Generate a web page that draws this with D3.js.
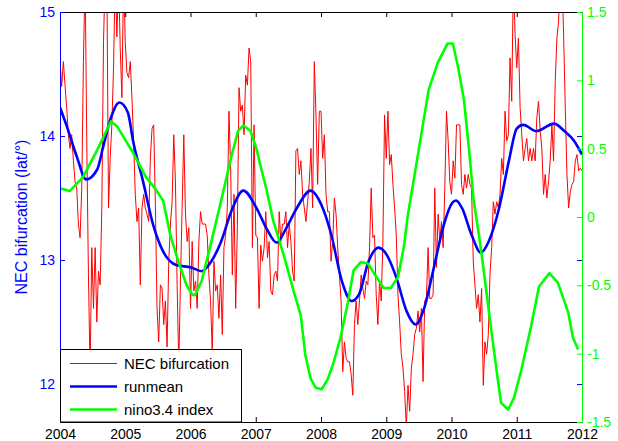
<!DOCTYPE html>
<html>
<head>
<meta charset="utf-8">
<script src="https://d3js.org/d3.v7.min.js"></script>
<style>
body { margin: 0; background: #ffffff; }
text { font-family: "Liberation Sans", Arial, Helvetica, sans-serif; }
</style>
</head>
<body>
<div id="chart"></div>
<script>
// NEC bifurcation latitude, ~39 samples per year
var nec2004 = [14.60,14.40,14.60,14.41,14.23,14.01,13.90,14.01,13.80,13.63,13.58,13.29,13.18,13.58,14.60,15.30,13.96,12.88,12.10,13.10,12.61,13.10,12.50,12.91,12.80,13.42,14.76,15.30,15.30,13.42,13.82,14.09,14.55,15.30,14.80,15.30,14.71,14.31,15.30];
var nec2005 = [14.76,14.51,14.47,14.60,14.31,13.96,13.53,13.31,13.42,12.80,13.42,13.53,13.42,13.37,13.31,13.82,14.06,14.09,13.45,12.61,12.34,12.80,12.77,12.48,12.67,12.30,12.99,13.29,13.47,14.01,13.63,12.80,12.15,12.83,13.42,14.01,13.37,13.15,13.26];
var nec2006 = [12.61,13.15,12.75,12.83,12.61,13.15,13.39,13.29,13.29,13.29,13.20,12.88,12.67,12.25,12.99,12.75,12.80,12.53,12.88,12.40,13.10,13.20,13.42,14.20,13.74,12.88,13.53,12.61,13.26,14.39,14.20,14.25,14.01,14.49,14.41,14.71,14.60,13.10,14.09];
var nec2007 = [13.20,13.18,12.61,13.12,12.99,13.10,13.39,13.02,13.15,12.75,12.72,12.88,12.91,12.83,13.39,13.15,13.29,13.29,13.39,13.10,13.29,13.15,12.91,12.83,13.88,13.90,13.69,13.80,13.53,13.42,13.31,13.47,13.63,13.90,13.42,14.60,14.17,13.61,14.20];
var nec2008 = [14.20,13.82,14.01,13.53,13.39,13.39,12.99,13.15,13.50,13.37,13.10,12.88,12.67,12.10,12.34,12.21,12.18,12.18,12.08,11.91,12.48,12.67,12.48,12.67,12.88,12.77,12.69,12.83,12.80,13.10,13.58,13.18,13.20,12.72,12.48,12.83,12.67,13.15,14.17];
var nec2009 = [13.82,14.20,13.77,13.85,13.61,13.42,13.20,12.72,12.50,12.24,12.13,11.94,11.65,11.99,11.78,12.13,12.24,12.40,12.45,12.59,12.42,12.61,12.02,12.67,12.69,13.10,12.69,12.69,12.72,13.58,12.94,13.37,13.15,13.31,13.10,13.58,14.20,13.96,13.63];
var nec2010 = [13.53,13.80,13.66,14.09,14.09,14.09,13.61,13.53,13.69,13.58,13.69,13.61,13.58,12.99,12.80,12.61,12.72,12.50,12.77,11.99,12.34,12.24,12.40,12.88,13.10,13.47,13.37,13.47,13.42,13.53,13.82,13.69,14.20,13.96,14.01,14.63,14.28,15.30,14.82];
var nec2011 = [14.55,14.79,14.23,14.01,13.80,13.90,13.98,13.80,13.90,13.80,13.90,13.80,14.15,14.28,14.04,13.90,13.53,13.69,13.50,13.63,13.80,14.09,13.80,14.44,14.79,14.92,15.30,15.30,14.82,14.23,13.69,13.42,13.55,13.61,13.63,13.80,13.85,13.72,13.74];
var necEnd = [13.72];

// running mean of the bifurcation latitude
var runmeanYears = [2004.00,2004.11,2004.26,2004.40,2004.57,2004.66,2004.77,2004.91,2005.04,2005.12,2005.27,2005.43,2005.58,2005.78,2006.01,2006.17,2006.32,2006.47,2006.63,2006.81,2007.01,2007.16,2007.32,2007.47,2007.63,2007.84,2008.01,2008.16,2008.32,2008.47,2008.58,2008.73,2008.88,2009.01,2009.16,2009.31,2009.45,2009.58,2009.73,2009.88,2010.01,2010.07,2010.16,2010.31,2010.45,2010.57,2010.73,2010.88,2011.00,2011.10,2011.30,2011.57,2011.73,2011.88,2012.00];
var runmeanLat = [14.23,14.07,13.83,13.65,13.73,13.91,14.13,14.27,14.19,13.96,13.64,13.28,13.07,12.96,12.94,12.91,12.99,13.15,13.40,13.56,13.42,13.26,13.14,13.26,13.42,13.56,13.44,13.20,12.83,12.67,12.72,12.99,13.10,13.04,12.85,12.59,12.48,12.61,12.94,13.28,13.46,13.48,13.42,13.20,13.06,13.15,13.42,13.80,14.06,14.09,14.04,14.10,14.04,13.96,13.85];

// nino3.4 index
var ninoYears = [2004.00,2004.15,2004.35,2004.57,2004.78,2004.88,2005.12,2005.32,2005.47,2005.58,2005.69,2005.81,2005.94,2006.03,2006.07,2006.17,2006.32,2006.47,2006.63,2006.73,2006.81,2006.92,2007.01,2007.07,2007.16,2007.27,2007.43,2007.58,2007.69,2007.76,2007.84,2007.92,2008.01,2008.10,2008.19,2008.30,2008.41,2008.50,2008.61,2008.72,2008.81,2008.96,2009.07,2009.18,2009.27,2009.33,2009.48,2009.65,2009.79,2009.94,2010.02,2010.10,2010.19,2010.27,2010.34,2010.42,2010.48,2010.61,2010.71,2010.76,2010.87,2010.96,2011.07,2011.22,2011.34,2011.50,2011.63,2011.79,2011.86,2011.94];
var ninoIndex = [0.21,0.19,0.29,0.49,0.70,0.66,0.47,0.29,0.20,0.12,-0.13,-0.32,-0.50,-0.57,-0.57,-0.47,-0.18,0.12,0.45,0.63,0.67,0.63,0.50,0.38,0.21,-0.03,-0.28,-0.54,-0.72,-1.01,-1.18,-1.25,-1.26,-1.19,-1.07,-0.88,-0.63,-0.39,-0.33,-0.34,-0.41,-0.52,-0.52,-0.44,-0.22,0.01,0.44,0.93,1.13,1.27,1.27,1.10,0.86,0.49,0.12,-0.13,-0.34,-0.83,-1.19,-1.36,-1.41,-1.32,-1.12,-0.80,-0.51,-0.41,-0.48,-0.70,-0.88,-0.97];

var yearTicks = [2004,2005,2006,2007,2008,2009,2010,2011,2012];
var latTicks = [12,13,14,15];
var ninoTicks = [-1.5,-1,-0.5,0,0.5,1,1.5];

var necYears = [nec2004,nec2005,nec2006,nec2007,nec2008,nec2009,nec2010,nec2011];
var nec = [];
necYears.forEach(function (arr, k) {
  arr.forEach(function (v, i) { nec.push({ t: 2004 + k + i / arr.length, v: v }); });
});
nec.push({ t: 2012, v: necEnd[0] });

var W = 618, H = 441;
var margin = { left: 60, right: 36, top: 12, bottom: 19 };
var width = W - margin.left - margin.right;
var height = H - margin.top - margin.bottom;

var blue = "#0000ff", green = "#00ff00", red = "#ff0000";

var svg = d3.select("#chart").append("svg")
  .attr("width", W).attr("height", H);

var g = svg.append("g")
  .attr("transform", "translate(" + margin.left + "," + margin.top + ")");

var x = d3.scaleLinear().domain([2004, 2012]).range([0, width]);
var yL = d3.scaleLinear().domain([11.694, 15]).range([height, 0]);
var yR = d3.scaleLinear().domain([-1.5, 1.5]).range([height, 0]);

g.append("clipPath").attr("id", "plotclip")
  .append("rect").attr("width", width).attr("height", height);

var plot = g.append("g").attr("clip-path", "url(#plotclip)");

plot.append("path")
  .datum(nec)
  .attr("fill", "none")
  .attr("stroke", red)
  .attr("stroke-width", 1)
  .attr("stroke-linejoin", "round")
  .attr("d", d3.line().x(function (d) { return x(d.t); }).y(function (d) { return yL(d.v); }));

plot.append("path")
  .datum(d3.zip(runmeanYears, runmeanLat))
  .attr("fill", "none")
  .attr("stroke", blue)
  .attr("stroke-width", 2.6)
  .attr("d", d3.line().curve(d3.curveMonotoneX)
    .x(function (d) { return x(d[0]); }).y(function (d) { return yL(d[1]); }));

plot.append("path")
  .datum(d3.zip(ninoYears, ninoIndex))
  .attr("fill", "none")
  .attr("stroke", green)
  .attr("stroke-width", 2.6)
  .attr("stroke-linejoin", "round")
  .attr("d", d3.line().x(function (d) { return x(d[0]); }).y(function (d) { return yR(d[1]); }));

// axes (MATLAB style, ticks pointing inward)
var fmt = function (d) { return String(d); };

g.append("g")
  .attr("transform", "translate(0," + height + ")")
  .style("color", "#000")
  .style("font-size", "14px")
  .call(d3.axisBottom(x).tickValues(yearTicks).tickFormat(fmt).tickSizeInner(-5).tickSizeOuter(0).tickPadding(7))
  .call(function (a) { a.selectAll("text").attr("font-family", null); });

g.append("g")
  .style("color", "#000")
  .call(d3.axisTop(x).tickValues(yearTicks).tickFormat("").tickSizeInner(-5).tickSizeOuter(0));

// mirrored left-axis ticks on the right side
g.append("g")
  .attr("transform", "translate(" + width + ",0)")
  .style("color", blue)
  .call(d3.axisRight(yL).tickValues(latTicks).tickFormat("").tickSizeInner(-5).tickSizeOuter(0))
  .call(function (a) { a.select(".domain").remove(); });

g.append("g")
  .style("color", blue)
  .style("font-size", "14px")
  .call(d3.axisLeft(yL).tickValues(latTicks).tickFormat(fmt).tickSizeInner(-5).tickSizeOuter(0).tickPadding(5))
  .call(function (a) { a.selectAll("text").attr("font-family", null); });

g.append("g")
  .attr("transform", "translate(" + width + ",0)")
  .style("color", green)
  .style("font-size", "14px")
  .call(d3.axisRight(yR).tickValues(ninoTicks).tickFormat(fmt).tickSizeInner(-5).tickSizeOuter(0).tickPadding(5))
  .call(function (a) { a.selectAll("text").attr("font-family", null); });

svg.append("text")
  .attr("transform", "translate(27," + (margin.top + height / 2) + ") rotate(-90)")
  .attr("text-anchor", "middle")
  .attr("fill", blue)
  .style("font-size", "16px")
  .text("NEC bifurcation (lat/\u00b0)");

// legend
var legendItems = [
  { name: "NEC bifurcation", color: red, w: 1 },
  { name: "runmean", color: blue, w: 2.6 },
  { name: "nino3.4 index", color: green, w: 2.6 }
];

var legend = g.append("g").attr("transform", "translate(0," + (height - 73) + ")");
legend.append("rect")
  .attr("x", 0.5).attr("y", 0.5)
  .attr("width", 181).attr("height", 72.5)
  .attr("fill", "#fff").attr("stroke", "#000").attr("stroke-width", 1);

legendItems.forEach(function (item, i) {
  var ly = 14.5 + i * 23;
  legend.append("line")
    .attr("x1", 10).attr("x2", 57)
    .attr("y1", ly).attr("y2", ly)
    .attr("stroke", item.color).attr("stroke-width", item.w);
  legend.append("text")
    .attr("x", 64).attr("y", ly).attr("dy", "0.35em")
    .style("font-size", "15px")
    .text(item.name);
});
</script>
</body>
</html>
